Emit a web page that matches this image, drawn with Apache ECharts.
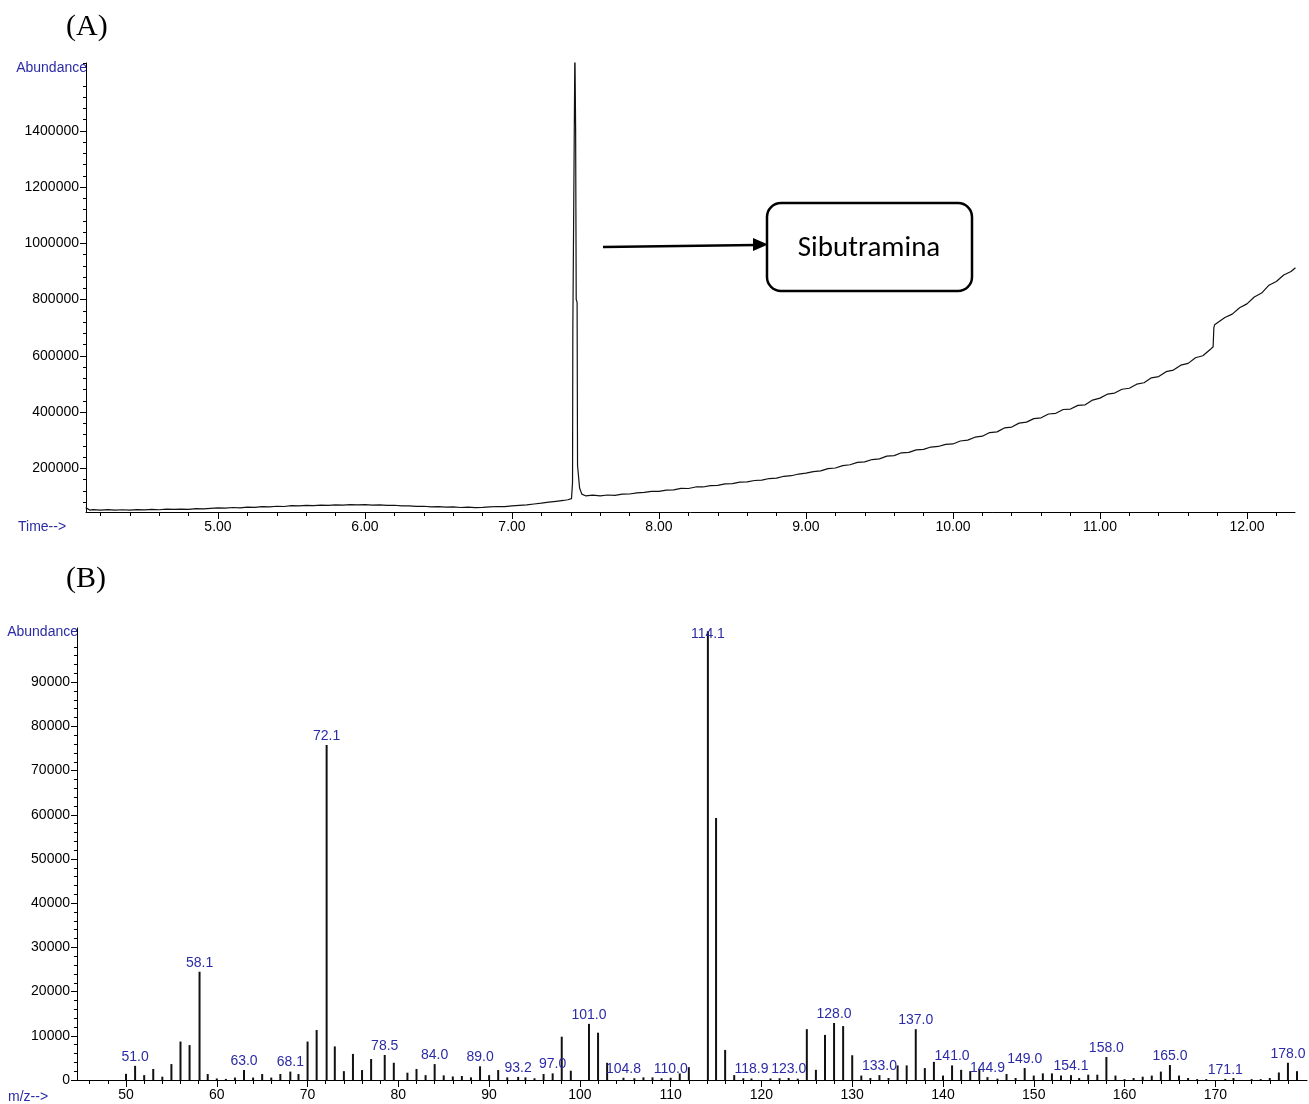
<!DOCTYPE html>
<html>
<head>
<meta charset="utf-8">
<title>Sibutramina – TIC e espectro de massas</title>
<script src="https://cdn.jsdelivr.net/npm/echarts@6/dist/echarts.min.js"></script>
<style>
  html, body { margin: 0; padding: 0; background: #fff; }
  #chart { width: 1309px; height: 1104px; }
</style>
</head>
<body>
<div id="chart"></div>
<script>
// ---- (A) Total ion chromatogram ----
const chromTime = [
  4.10, 4.13, 4.15, 4.20, 4.25, 4.30, 4.35, 4.40, 4.45, 4.50, 4.55, 4.60, 4.65, 4.70, 4.75, 4.80, 4.85, 4.90, 4.95,
  5.00, 5.05, 5.10, 5.15, 5.20, 5.25, 5.30, 5.35, 5.40, 5.45, 5.50, 5.55, 5.60, 5.65, 5.70, 5.75, 5.80, 5.85, 5.90, 5.95,
  6.00, 6.05, 6.10, 6.15, 6.20, 6.25, 6.30, 6.35, 6.40, 6.45, 6.50, 6.55, 6.60, 6.65, 6.70, 6.75, 6.80, 6.85, 6.90, 6.95,
  7.00, 7.05, 7.10, 7.15, 7.20, 7.25, 7.30, 7.35, 7.38, 7.405, 7.412, 7.414, 7.428, 7.433, 7.437, 7.443, 7.446, 7.46, 7.475,
  7.50, 7.55, 7.60, 7.65, 7.70, 7.75, 7.80, 7.85, 7.90, 7.95,
  8.00, 8.05, 8.10, 8.15, 8.20, 8.25, 8.30, 8.35, 8.40, 8.45, 8.50, 8.55, 8.60, 8.65, 8.70, 8.75, 8.80, 8.85, 8.90, 8.95,
  9.00, 9.05, 9.10, 9.15, 9.20, 9.25, 9.30, 9.35, 9.40, 9.45, 9.50, 9.55, 9.60, 9.65, 9.70, 9.75, 9.80, 9.85, 9.90, 9.95,
  10.00, 10.05, 10.10, 10.15, 10.20, 10.25, 10.30, 10.35, 10.40, 10.45, 10.50, 10.55, 10.60, 10.65, 10.70, 10.75, 10.80, 10.85, 10.90, 10.95,
  11.00, 11.05, 11.10, 11.15, 11.20, 11.25, 11.30, 11.35, 11.40, 11.45, 11.50, 11.55, 11.60, 11.65, 11.70, 11.75, 11.77, 11.775, 11.78,
  11.85, 11.90, 11.95, 12.00, 12.05, 12.10, 12.15, 12.20, 12.25, 12.30, 12.33
];
const chromAbund = [
  60000, 51000, 53000, 51500, 53000, 51000, 52500, 51000, 53000, 52000, 54000, 52500, 54500, 53500, 55000, 54000, 56500, 55500, 57500,
  59000, 58000, 60500, 59500, 62000, 61000, 63500, 62500, 65000, 64000, 67000, 66000, 68000, 67000, 69000, 68000, 70000, 69000, 71000, 70000,
  71000, 69000, 70000, 68000, 68500, 66500, 66000, 64500, 65000, 63000, 63500, 61500, 62500, 60500, 62000, 60000, 61000, 62500, 64000, 63500,
  66000, 68000, 70000, 73000, 76000, 79500, 82500, 85500, 88000, 92000, 150000, 690000, 1700000, 1404000, 800000, 790000, 210000, 130000, 108000,
  102000, 104500, 101500, 105000, 103500, 108000, 108500, 112500, 114000, 118000,
  118000, 122500, 123000, 128500, 128000, 133500, 133500, 138500, 139000, 144500, 145500, 150500, 151500, 156500, 158000, 163500, 165000, 171500, 173500, 179500,
  182500, 188000, 190500, 198500, 201000, 209500, 212500, 221000, 222500, 231000, 233500, 243000, 245000, 255000, 256500, 265500, 267000, 275500, 277500, 285000,
  286500, 297000, 300000, 310500, 314000, 327000, 329500, 343500, 346500, 360500, 364000, 376500, 379500, 393000, 395500, 409000, 410500, 423500, 425500, 442500,
  449500, 463500, 467500, 481000, 484500, 499000, 504000, 521500, 526000, 543500, 549000, 566500, 573000, 593000, 600000, 622000, 632000, 700000, 710000,
  736000, 748000, 770500, 784500, 809000, 823000, 851000, 864000, 887000, 899500, 913000
];
const chromTimeTicks = [5, 6, 7, 8, 9, 10, 11, 12];
const chromAbundTicks = [200000, 400000, 600000, 800000, 1000000, 1200000, 1400000];

// ---- (B) Mass spectrum at the sibutramine peak ----
const msMz = [
  50, 51.0, 52, 53, 54, 55, 56, 57, 58.1, 59, 60, 61, 62, 63.0, 64, 65, 66, 67, 68.1, 69,
  70, 71, 72.1, 73, 74, 75, 76, 77, 78.5, 79.5, 81, 82, 83, 84.0, 85, 86, 87, 88, 89.0,
  90, 91, 92, 93.2, 94, 95, 96, 97.0, 98, 99, 101.0, 102, 103, 104.8, 106, 107, 108, 109,
  110.0, 111, 112, 114.1, 115, 116, 117, 118, 118.9, 121, 122, 123.0, 124, 125, 126, 127, 128.0, 129,
  130, 131, 132, 133.0, 134, 135, 136, 137.0, 138, 139, 140, 141.0, 142, 143, 144, 144.9, 146, 147, 148, 149.0,
  150, 151, 152, 153, 154.1, 155, 156, 157, 158.0, 159, 160, 161, 162, 163, 164, 165.0, 166, 167, 168, 169,
  171.1, 172, 174, 175, 176, 177, 178.0, 179
];
const msAbund = [
  1400, 3200, 1100, 2500, 750, 3600, 8700, 7900, 24500, 1350, 350, 250, 550, 2260, 550, 1350, 550, 1350, 1900, 1350,
  8700, 11300, 75800, 7600, 2000, 5900, 2250, 4750, 5650, 3900, 1650, 2500, 1100, 3600, 1050, 800, 900, 600, 3100,
  1100, 2250, 600, 700, 600, 400, 1350, 1500, 9800, 2100, 12700, 10700, 3900, 500, 400, 600, 600, 400,
  500, 1500, 2900, 101500, 59300, 6800, 1100, 400, 350, 350, 400, 450, 300, 11500, 2300, 10200, 12900, 12200,
  5600, 1000, 450, 1100, 450, 3300, 3300, 11500, 2700, 4100, 1000, 3300, 2300, 2000, 2500, 650, 300, 1350, 450, 2700,
  1000, 1500, 1500, 1000, 1100, 450, 1200, 1200, 5200, 1000, 200, 450, 750, 1000, 1900, 3400, 1000, 450, 200, 200,
  250, 450, 200, 200, 450, 1700, 3900, 2000
];
const msLabeledMz = [
  51.0, 58.1, 63.0, 68.1, 72.1, 78.5, 84.0, 89.0, 93.2, 97.0, 101.0, 104.8, 110.0, 114.1,
  118.9, 123.0, 128.0, 133.0, 137.0, 141.0, 144.9, 149.0, 154.1, 158.0, 165.0, 171.1, 178.0
];
const msMzTicks = [50, 60, 70, 80, 90, 100, 110, 120, 130, 140, 150, 160, 170];
const msAbundTicks = [0, 10000, 20000, 30000, 40000, 50000, 60000, 70000, 80000, 90000];

// ---- styling ----
const TICK_FONT = "'Liberation Sans', Arial, sans-serif";
const TICK_SIZE = 14;
const BLUE = '#2b2ba6';
const INK = '#000';

// evenly spaced minor tick positions, skipping the ones that carry a major tick
function steps(from, to, step, skipEvery) {
  const out = [];
  for (let i = 0; ; i++) {
    const v = +(from + i * step).toFixed(6);
    if (v > to + 1e-9) break;
    if (skipEvery && Math.abs(v / skipEvery - Math.round(v / skipEvery)) < 1e-6) continue;
    out.push(v);
  }
  return out;
}

const chromData = chromTime.map((t, i) => [t, chromAbund[i]]);
const msData = msMz.map((m, i) => {
  const item = { value: [m, msAbund[i]] };
  if (msLabeledMz.includes(m)) {
    item.label = { show: true };
    // the base peak reaches the top of the frame, so its label sits on the bar
    if (msAbund[i] > 100000) Object.assign(item.label, { position: 'insideTop', distance: 0, offset: [0, -4] });
  }
  return item;
});

const labelStyle = { color: INK, fontFamily: TICK_FONT, fontSize: TICK_SIZE };
const lineStyle = { color: INK, width: 1 };

function majorX(grid, min, max, ticks, fmt) {
  return {
    type: 'value', gridIndex: grid, min, max, position: 'bottom',
    axisLine: { show: true, onZero: false, lineStyle },
    axisTick: { show: true, length: 7, customValues: ticks, lineStyle },
    axisLabel: Object.assign({ show: true, margin: 8, customValues: ticks, formatter: fmt }, labelStyle),
    splitLine: { show: false }
  };
}
function minorX(grid, min, max, ticks) {
  return {
    type: 'value', gridIndex: grid, min, max, position: 'bottom', offset: 0,
    axisLine: { show: false, onZero: false },
    axisTick: { show: true, length: 4, customValues: ticks, lineStyle },
    axisLabel: { show: false },
    splitLine: { show: false }
  };
}
function majorY(grid, min, max, ticks) {
  return {
    type: 'value', gridIndex: grid, min, max, position: 'left',
    axisLine: { show: true, onZero: false, lineStyle },
    axisTick: { show: true, length: 6, customValues: ticks, lineStyle },
    axisLabel: Object.assign({ show: true, margin: 7, customValues: ticks, formatter: v => String(v) }, labelStyle),
    splitLine: { show: false }
  };
}
function minorY(grid, min, max, ticks) {
  return {
    type: 'value', gridIndex: grid, min, max, position: 'left', offset: 0,
    axisLine: { show: false, onZero: false },
    axisTick: { show: true, length: 3, customValues: ticks, lineStyle },
    axisLabel: { show: false },
    splitLine: { show: false }
  };
}

const chart = echarts.init(document.getElementById('chart'), null, { renderer: 'canvas', width: 1309, height: 1104 });

chart.setOption({
  animation: false,
  backgroundColor: '#fff',
  grid: [
    { left: 86, right: 14, top: 63, height: 449 },
    { left: 77, right: 2, top: 628, height: 452 }
  ],
  xAxis: [
    majorX(0, 4.102, 12.327, chromTimeTicks, v => v.toFixed(2)),
    minorX(0, 4.102, 12.327, steps(4.2, 12.2, 0.2, 1)),
    majorX(1, 44.6, 180.1, msMzTicks, v => String(v)),
    minorX(1, 44.6, 180.1, steps(46, 180, 2, 10))
  ],
  yAxis: [
    majorY(0, 44500, 1641000, chromAbundTicks),
    minorY(0, 44500, 1641000, steps(80000, 1640000, 40000, 200000)),
    majorY(1, 0, 102260, msAbundTicks),
    minorY(1, 0, 102260, steps(2000, 100000, 2000, 10000))
  ],
  series: [
    {
      type: 'line', xAxisIndex: 0, yAxisIndex: 0,
      data: chromData, showSymbol: false, symbol: 'none',
      lineStyle: { color: '#111', width: 1.2 },
      clip: true
    },
    {
      type: 'bar', xAxisIndex: 2, yAxisIndex: 2,
      data: msData, barWidth: 2,
      itemStyle: { color: '#111' },
      label: {
        show: false, position: 'top', distance: 2,
        color: BLUE, fontFamily: TICK_FONT, fontSize: TICK_SIZE,
        formatter: p => p.value[0].toFixed(1)
      }
    }
  ],
  graphic: [
    { type: 'text', left: 66, top: 12, style: { text: '(A)', font: '30px "Liberation Serif", serif', fill: INK } },
    { type: 'text', left: 66, top: 564, style: { text: '(B)', font: '30px "Liberation Serif", serif', fill: INK } },
    { type: 'text', x: 87, y: 68, style: { text: 'Abundance', font: TICK_SIZE + 'px ' + TICK_FONT, fill: BLUE, textAlign: 'right', textVerticalAlign: 'middle' } },
    { type: 'text', x: 18, y: 527, style: { text: 'Time-->', font: TICK_SIZE + 'px ' + TICK_FONT, fill: BLUE, textVerticalAlign: 'middle' } },
    { type: 'text', x: 78, y: 632, style: { text: 'Abundance', font: TICK_SIZE + 'px ' + TICK_FONT, fill: BLUE, textAlign: 'right', textVerticalAlign: 'middle' } },
    { type: 'text', x: 8, y: 1097, style: { text: 'm/z-->', font: TICK_SIZE + 'px ' + TICK_FONT, fill: BLUE, textVerticalAlign: 'middle' } },
    // callout pointing at the sibutramine peak
    { type: 'line', shape: { x1: 603, y1: 247, x2: 756, y2: 245 }, style: { stroke: INK, lineWidth: 2.5 } },
    { type: 'polygon', shape: { points: [[768, 244.5], [753, 238], [753, 251]] }, style: { fill: INK } },
    { type: 'rect', shape: { x: 767, y: 203, width: 205, height: 88, r: 14 }, style: { fill: '#fff', stroke: INK, lineWidth: 2.5 } },
    { type: 'text', x: 869, y: 249, style: { text: 'Sibutramina', font: '29px Carlito, "Open Sans", sans-serif', fill: INK, textAlign: 'center', textVerticalAlign: 'middle' } }
  ]
});
</script>
</body>
</html>
